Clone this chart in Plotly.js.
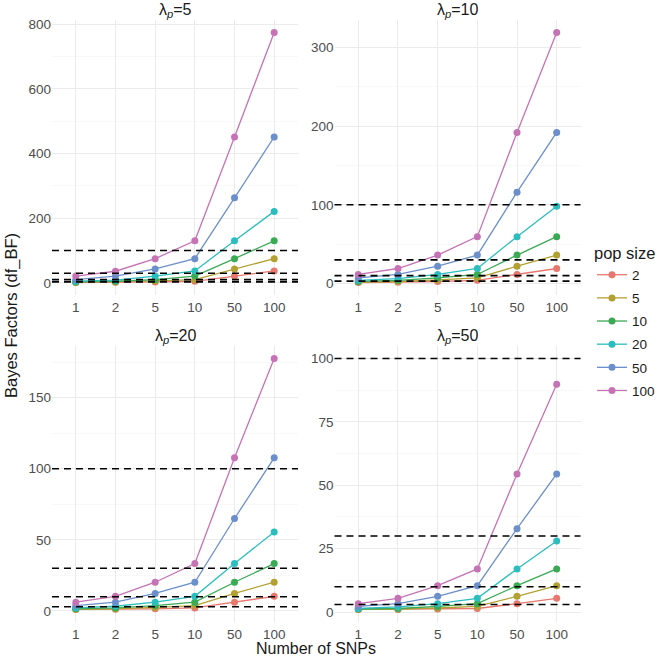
<!DOCTYPE html>
<html>
<head>
<meta charset="utf-8">
<script src="https://cdn.plot.ly/plotly-3.0.1.min.js"></script>
<style>html,body{margin:0;padding:0;background:#fff;}#chart{width:662px;height:657px;}</style>
</head>
<body>
<div id="chart"></div>
<script>
// Number of SNPs (discrete x categories)
const snps = ['1', '2', '5', '10', '50', '100'];
// pop size groups
const popSizes = ['2', '5', '10', '20', '50', '100'];
// panel labels (lambda_p)
const lambdas = ['5', '10', '20', '50'];
// reference thresholds (dashed lines)
const thresholds = [3, 10, 30, 100];

// Bayes factors, rows = pop size (2,5,10,20,50,100), cols = SNPs (1,2,5,10,50,100)
const bfLambda5 = [
  [1.2, 1.6, 3, 5, 21, 37],
  [1.8, 3, 6, 10, 43, 75],
  [3, 5, 10, 21, 75, 130],
  [5, 8.5, 21, 37, 130, 221],
  [10, 21, 43, 75, 263, 451],
  [21, 36, 75, 130, 451, 774]
];
const bfLambda10 = [
  [1.2, 1.5, 2.5, 4, 11.4, 19],
  [1.7, 2.5, 4.5, 7, 22, 36],
  [2.5, 4, 7, 11.4, 36, 59.5],
  [4, 6, 11.4, 19, 59.5, 98],
  [7, 11.4, 22, 36, 116, 192],
  [11.4, 19, 36, 59.5, 192, 319]
];
const bfLambda20 = [
  [1.05, 1.15, 1.5, 2.1, 6.2, 10.3],
  [1.2, 1.5, 2.5, 3.8, 12.3, 20.2],
  [1.5, 2.1, 3.8, 6.2, 20.2, 33.3],
  [2.1, 3.3, 6.2, 10.3, 33.3, 55.6],
  [3.8, 6.2, 12.3, 20.2, 65, 107.7],
  [6.2, 10.3, 20.2, 33.3, 107.7, 177.5]
];
const bfLambda50 = [
  [1.02, 1.05, 1.2, 1.4, 3.3, 5.4],
  [1.1, 1.2, 1.6, 2.2, 6.2, 10.4],
  [1.2, 1.4, 2.2, 3.3, 10.4, 17],
  [1.4, 2, 3.3, 5.4, 17, 28],
  [2.2, 3.3, 6.2, 10.4, 32.9, 54.5],
  [3.3, 5.4, 10.4, 17, 54.5, 89.9]
];

const panelData = [bfLambda5, bfLambda10, bfLambda20, bfLambda50];
const colors = ['#e8776e', '#b3a032', '#3aaa55', '#2cbdbf', '#6b8fcb', '#c673b5'];

const W = 662, H = 657;
const colX = [[52 / W, 298 / W], [334.5 / W, 580.5 / W]];
const rowY = [[(H - 295) / H, (H - 20) / H], [(H - 622) / H, (H - 346) / H]];
const yDtick = [200, 100, 50, 25];

const font = 'Liberation Sans, Arial, Helvetica, sans-serif';
const traces = [];
const layout = {
  width: W, height: H,
  margin: {l: 0, r: 0, t: 0, b: 0},
  paper_bgcolor: '#ffffff', plot_bgcolor: '#ffffff',
  font: {family: font, color: '#4d4d4d'},
  showlegend: true,
  legend: {
    x: 592 / W, y: (H - 238) / H, xanchor: 'left', yanchor: 'top',
    title: {text: 'pop size', font: {size: 16.5, color: '#1a1a1a', family: font}},
    font: {size: 13.5, color: '#1a1a1a', family: font},
    tracegroupgap: 2.6, itemwidth: 30
  },
  shapes: [],
  annotations: []
};

panelData.forEach((data, p) => {
  const idx = p + 1;
  const xa = 'x' + (idx === 1 ? '' : idx);
  const ya = 'y' + (idx === 1 ? '' : idx);
  const row = Math.floor(p / 2), col = p % 2;
  let all = [].concat(...data, thresholds);
  const lo = Math.min(...all), hi = Math.max(...all);
  const pad = 0.05 * (hi - lo);
  data.forEach((vals, g) => {
    traces.push({
      type: 'scatter', mode: 'lines+markers',
      x: snps, y: vals, xaxis: xa, yaxis: ya,
      name: popSizes[g], legendgroup: popSizes[g], showlegend: p === 0,
      line: {color: colors[g], width: 1.3},
      marker: {color: colors[g], size: 7}
    });
  });
  layout['xaxis' + (idx === 1 ? '' : idx)] = {
    domain: colX[col], anchor: ya, type: 'category',
    categoryorder: 'array', categoryarray: snps,
    range: [-0.6, snps.length - 0.4],
    showgrid: true, gridcolor: '#ebebeb', gridwidth: 1,
    zeroline: false, showline: false, ticks: '',
    ticklabelstandoff: 2,
    tickfont: {size: 13.5, color: '#4d4d4d', family: font},
    automargin: false, fixedrange: true
  };
  layout['yaxis' + (idx === 1 ? '' : idx)] = {
    domain: rowY[row], anchor: xa,
    range: [lo - pad, hi + pad],
    dtick: yDtick[p], tick0: 0,
    showgrid: true, gridcolor: '#ebebeb', gridwidth: 1,
    minor: {dtick: yDtick[p] / 2, tick0: 0, showgrid: true, gridcolor: '#f4f4f4', gridwidth: 0.6, ticks: ''},
    zeroline: false, showline: false, ticks: '',
    tickfont: {size: 13.5, color: '#4d4d4d', family: font},
    automargin: false, fixedrange: true
  };
  thresholds.forEach(t => {
    layout.shapes.push({
      type: 'line', xref: xa + ' domain', yref: ya,
      x0: 0, x1: 1, y0: t, y1: t, layer: 'above',
      line: {color: '#000000', width: 1.6, dash: '7px,5px'}
    });
  });
  layout.annotations.push({
    xref: xa + ' domain', yref: ya + ' domain', x: 0.5, y: 1,
    xanchor: 'center', yanchor: 'bottom', yshift: -2, showarrow: false,
    text: 'λ<sub><i>p</i></sub>=' + lambdas[p],
    font: {size: 16, color: '#1a1a1a', family: font}
  });
});

layout.annotations.push({
  xref: 'paper', yref: 'paper', x: 316 / W, y: (H - 648) / H,
  xanchor: 'center', yanchor: 'middle', showarrow: false,
  text: 'Number of SNPs', font: {size: 16, color: '#1a1a1a', family: font}
});
layout.annotations.push({
  xref: 'paper', yref: 'paper', x: 11 / W, y: (H - 316) / H,
  xanchor: 'center', yanchor: 'middle', showarrow: false, textangle: -90,
  text: 'Bayes Factors (df_BF)', font: {size: 16.5, color: '#1a1a1a', family: font}
});

Plotly.newPlot('chart', traces, layout, {staticPlot: true, displayModeBar: false});
</script>
</body>
</html>
